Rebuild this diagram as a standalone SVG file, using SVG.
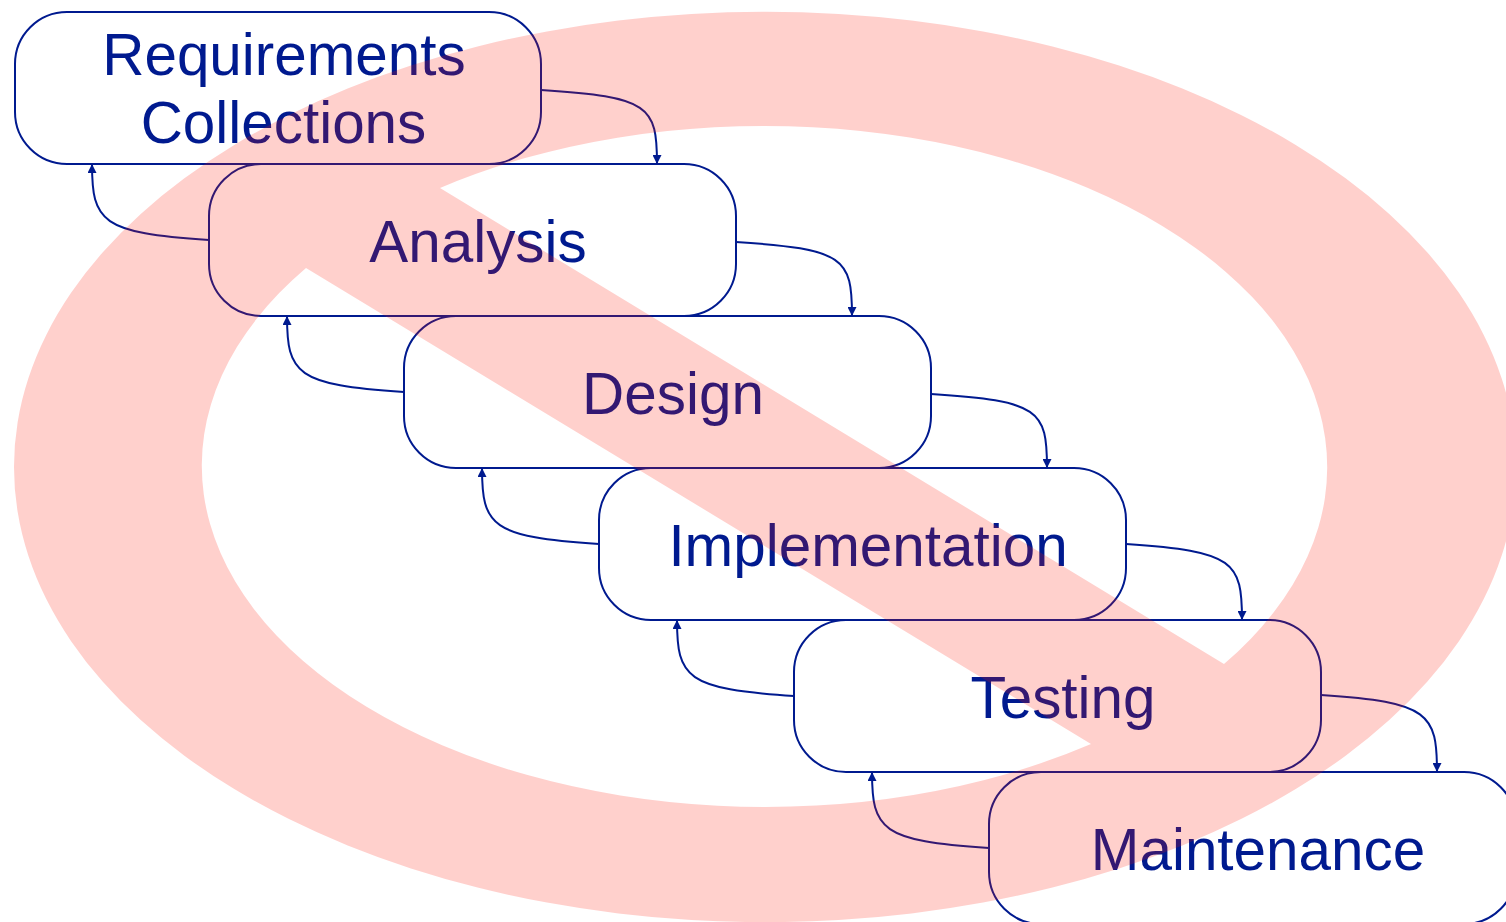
<svg xmlns="http://www.w3.org/2000/svg" width="1506" height="922" viewBox="0 0 1506 922">
<style>
.box{fill:#fff;stroke:#001a8f;stroke-width:2}
.lbl{font-family:"Liberation Sans",Arial,Helvetica,sans-serif;font-size:58.4px;fill:#001a8f;text-anchor:middle}
.con{fill:none;stroke:#001a8f;stroke-width:2;marker-end:url(#b)}
.no{fill:#ff1400;fill-opacity:.2;fill-rule:evenodd}
</style>
<defs><marker id="b" markerUnits="userSpaceOnUse" markerWidth="9" markerHeight="9" refX="9" refY="4.5" orient="auto" viewBox="0 0 9 9"><polygon points="0,0 9,4.5 0,9" fill="#001a8f"/></marker></defs>
<rect width="1506" height="922" fill="#fff"/>
<g id="node-requirements"><rect class="box" x="15" y="12" width="526" height="152" rx="52" ry="52"/><text class="lbl" x="284" y="75">Requirements</text><text class="lbl" x="283.500" y="143">Collections</text></g>
<g id="node-analysis"><rect class="box" x="209" y="164" width="527" height="152" rx="52" ry="52"/><text class="lbl" x="478" y="262">Analysis</text></g>
<g id="node-design"><rect class="box" x="404" y="316" width="527" height="152" rx="52" ry="52"/><text class="lbl" x="673" y="414">Design</text></g>
<g id="node-implementation"><rect class="box" x="599" y="468" width="527" height="152" rx="52" ry="52"/><text class="lbl" x="868" y="566">Implementation</text></g>
<g id="node-testing"><rect class="box" x="794" y="620" width="527" height="152" rx="52" ry="52"/><text class="lbl" x="1063" y="718">Testing</text></g>
<g id="node-maintenance"><rect class="box" x="989" y="772" width="527" height="152" rx="52" ry="52"/><text class="lbl" x="1258" y="870">Maintenance</text></g>
<g id="connectors">
<path class="con" d="M541 90C650 97 657 106 657 164"/>
<path class="con" d="M736 242C845 249 852 258 852 316"/>
<path class="con" d="M931 394C1040 401 1047 410 1047 468"/>
<path class="con" d="M1126 544C1235 551 1242 562 1242 620"/>
<path class="con" d="M1321 695C1430 702 1437 714 1437 772"/>
<path class="con" d="M209 240C101 233 92 222 92 164"/>
<path class="con" d="M404 392C296 385 287 374 287 316"/>
<path class="con" d="M599 544C491 537 482 526 482 468"/>
<path class="con" d="M794 696C686 689 677 678 677 620"/>
<path class="con" d="M989 848C881 841 872 830 872 772"/>
</g>
<path id="no-symbol" class="no" d="M14 467A751 455 0 1 1 1516 467A751 455 0 1 1 14 467ZM440 188A563.300 341.200 0 0 1 1224 664ZM306 268A563.300 341.200 0 0 0 1091 744Z"/>
</svg>
